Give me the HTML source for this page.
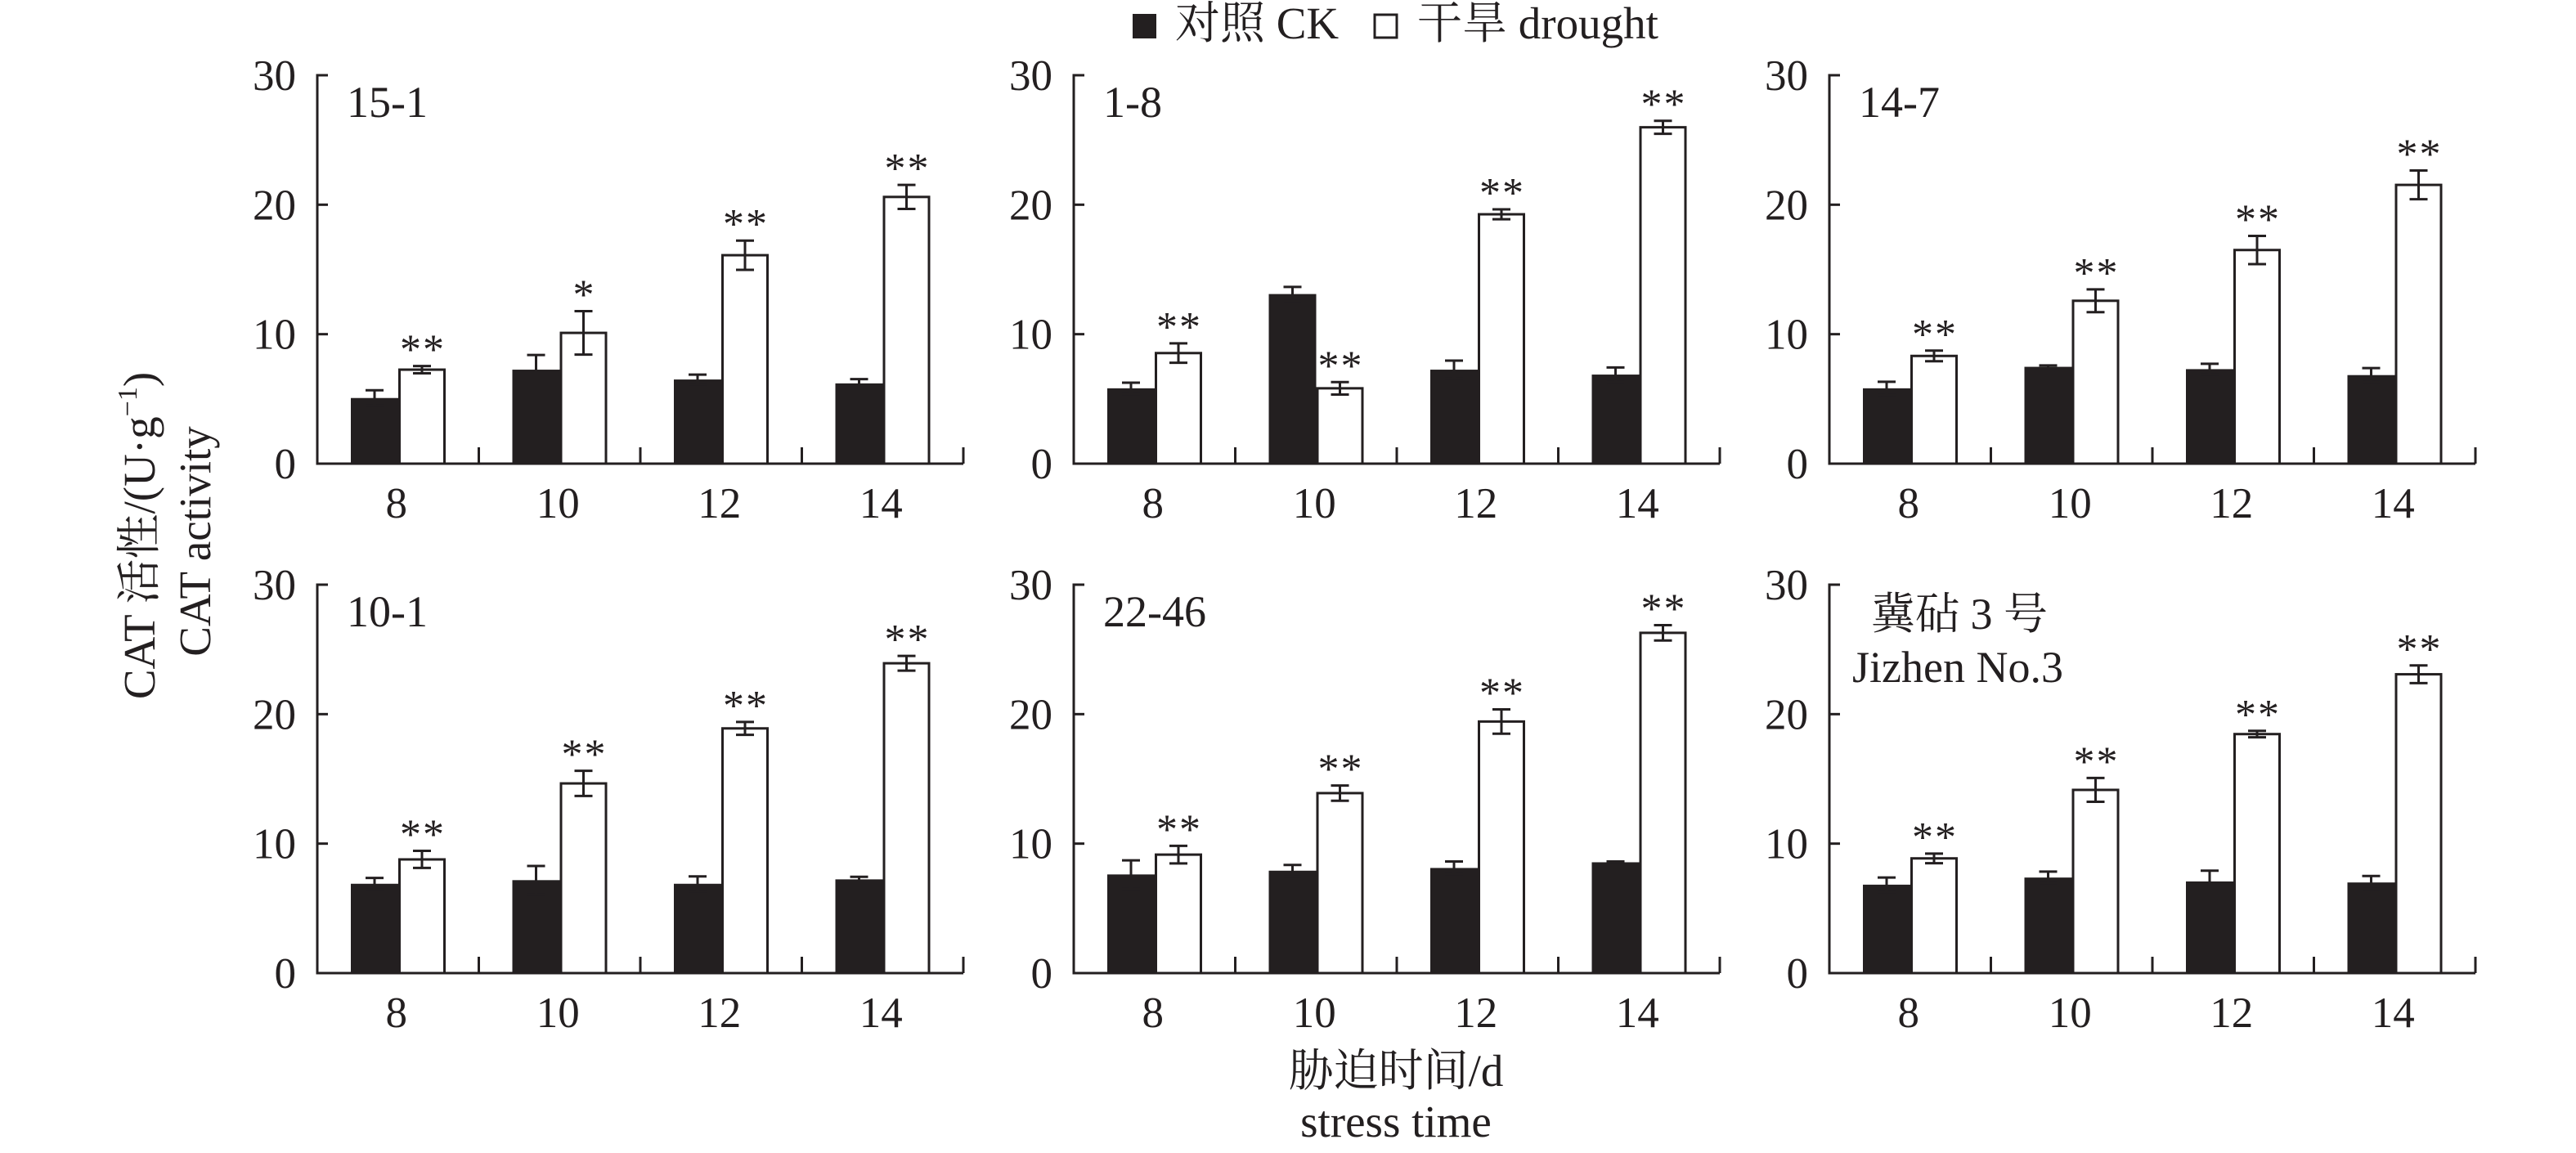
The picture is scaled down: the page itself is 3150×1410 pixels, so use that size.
<!DOCTYPE html>
<html><head><meta charset="utf-8"><style>
html,body{margin:0;padding:0;background:#fff;}
svg{display:block;font-family:"Liberation Serif","Noto Serif CJK SC","Noto Sans CJK SC",serif;}
</style></head><body>
<svg id="chart" width="3150" height="1410" viewBox="0 0 3150 1410" xmlns="http://www.w3.org/2000/svg">
<g>
<rect x="1385" y="17" width="29" height="30" fill="#231f20"/>
<text x="1437" y="47" font-size="55" fill="#231f20">对照 CK</text>
<rect x="1681" y="18" width="27" height="28" fill="#fff" stroke="#231f20" stroke-width="3"/>
<text x="1733" y="47" font-size="55" fill="#231f20">干旱 drought</text>
</g>
<g>
<text transform="translate(189,655) rotate(-90)" text-anchor="middle" font-size="55" fill="#231f20">CAT 活性/(U·g<tspan font-size="34" dy="-22">−1</tspan><tspan dy="22">)</tspan></text>
<text transform="translate(257,662) rotate(-90)" text-anchor="middle" font-size="55" fill="#231f20">CAT activity</text>
</g>
<g>
<text x="1707" y="1328" text-anchor="middle" font-size="55" fill="#231f20">胁迫时间/d</text>
<text x="1707" y="1390" text-anchor="middle" font-size="55" fill="#231f20">stress time</text>
</g>
<g id="panels"></g>
</svg>
<script>
const categories = ["8","10","12","14"];
const yTicks = [0,10,20,30];
const panelNames = ["15-1","1-8","14-7","10-1","22-46","jizhen"];
const ckValues = [
  [5.07,7.26,6.5,6.2],
  [5.82,13.1,7.26,6.88],
  [5.82,7.48,7.3,6.84],
  [6.9,7.18,6.9,7.24],
  [7.62,7.91,8.12,8.56],
  [6.83,7.38,7.08,7.0]
];
const ckErrors = [
  [0.6,1.13,0.38,0.33],
  [0.43,0.55,0.7,0.55],
  [0.5,0.11,0.41,0.54],
  [0.45,1.09,0.57,0.2],
  [1.09,0.44,0.5,0.06],
  [0.55,0.46,0.83,0.5]
];
const droughtValues = [
  [7.26,10.1,16.1,20.6],
  [8.54,5.82,19.26,25.98],
  [8.32,12.58,16.5,21.53],
  [8.78,14.65,18.9,23.93],
  [9.15,13.9,19.43,26.28],
  [8.86,14.15,18.46,23.08]
];
const droughtErrors = [
  [0.28,1.68,1.13,0.93],
  [0.75,0.48,0.38,0.5],
  [0.41,0.88,1.09,1.11],
  [0.66,0.97,0.5,0.57],
  [0.68,0.59,0.94,0.59],
  [0.37,0.92,0.25,0.68]
];
const signif = [
  ["**","*","**","**"],
  ["**","**","**","**"],
  ["**","**","**","**"],
  ["**","**","**","**"],
  ["**","**","**","**"],
  ["**","**","**","**"]
];
const panelLabels = ["15-1","1-8","14-7","10-1","22-46",""];

const NS="http://www.w3.org/2000/svg";
const INK="#231f20";
const root=document.getElementById('panels');
const colX=[388,1313,2237];
const rowBottom=[567,1190];
const W=790, H=475, YMAX=30;
function mk(tag,attrs,parent){const e=document.createElementNS(NS,tag);for(const k in attrs)e.setAttribute(k,attrs[k]);parent.appendChild(e);return e;}

for(let p=0;p<6;p++){
  const x0=colX[p%3], yb=rowBottom[Math.floor(p/3)];
  const yS=v=>yb-v/YMAX*H;
  const gw=W/categories.length;
  const xS=i=>x0+i*gw;
  const g=mk('g',{},root);
  
  
  for(let i=0;i<categories.length;i++){
    const bx=xS(i)+41;
    const ck=mk('rect',{x:bx,y:yS(ckValues[p][i]),width:58,height:yb-yS(ckValues[p][i]),fill:INK},g);
    
    
    const dv=droughtValues[p][i];
    const dr=mk('rect',{x:bx+58+1.5,y:yS(dv),width:55,height:yb-yS(dv),fill:'#fff',stroke:INK,'stroke-width':3},g);
    
    
    const eb=[[bx+29,ckValues[p][i],ckErrors[p][i]],[bx+58+29,dv,droughtErrors[p][i]]];
    for(const [cx,v,e] of eb){
      const eg=mk('path',{d:`M${cx},${yS(v+e)}V${yS(v-e)}M${cx-11},${yS(v+e)}H${cx+11}M${cx-11},${yS(v-e)}H${cx+11}`,stroke:INK,'stroke-width':3,fill:'none'},g);
      
      
    }
    const st=mk('text',{x:bx+58+30,y:yS(dv+droughtErrors[p][i])-3,'text-anchor':'middle','font-size':52,fill:INK,'letter-spacing':'2'},g);
    st.textContent=signif[p][i];
    
    
    const tl=mk('text',{x:xS(i)+gw/2-2,y:yb+66,'text-anchor':'middle','font-size':53,fill:INK},g);
    tl.textContent=categories[i];
    
    
    const dt=mk('line',{x1:xS(i+1),x2:xS(i+1),y1:yb,y2:yb-20,stroke:INK,'stroke-width':3},g);
    
    
  }
  const ax=mk('path',{d:`M${x0+13},${yS(YMAX)}H${x0}V${yb}H${x0+W}`,stroke:INK,'stroke-width':3,fill:'none'},g);
  
  
  for(const t of yTicks){
    if(t>0&&t<YMAX){
      const tk=mk('line',{x1:x0,x2:x0+13,y1:yS(t),y2:yS(t),stroke:INK,'stroke-width':3},g);
      
      
    }
    const lb=mk('text',{x:x0-26,y:yS(t)+18,'text-anchor':'end','font-size':53,fill:INK},g);
    lb.textContent=String(t);
    
    
  }
  if(panelLabels[p]){
    const pl=mk('text',{x:x0+36,y:yS(YMAX)+51,'font-size':54,fill:INK},g);
    pl.textContent=panelLabels[p];
    
    
  } else {
    const a=mk('text',{x:x0+51,y:yS(YMAX)+54,'font-size':54,fill:INK},g);
    a.textContent='冀砧 3 号';
    
    
    const b=mk('text',{x:x0+28,y:yS(YMAX)+119,'font-size':54,fill:INK},g);
    b.textContent='Jizhen No.3';
    
    
  }
}
</script>
</body></html>
